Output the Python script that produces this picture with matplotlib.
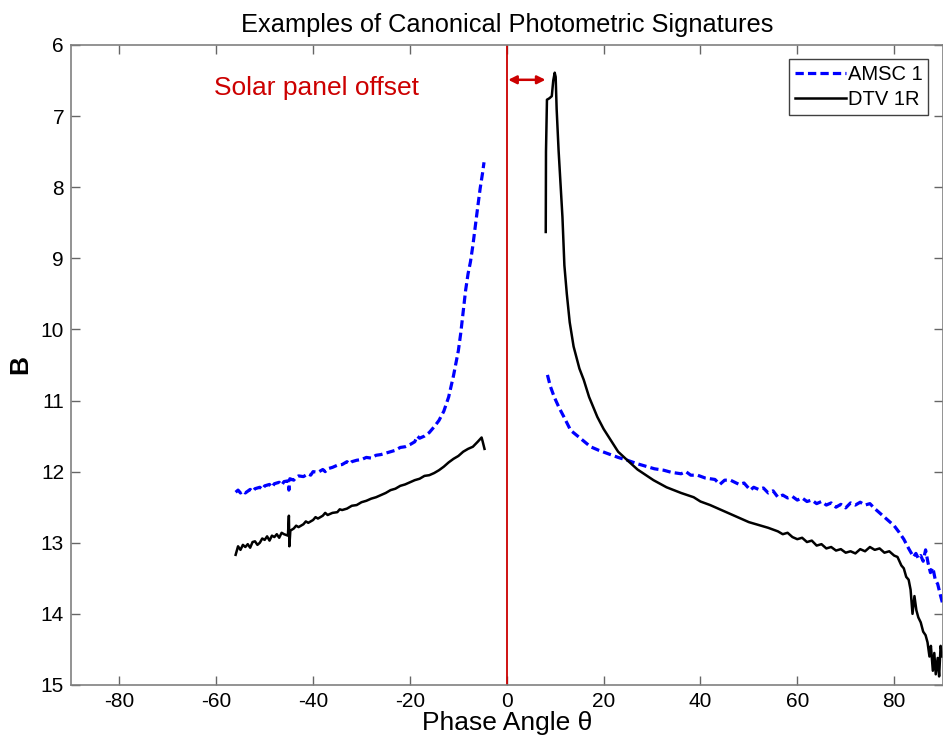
import matplotlib
matplotlib.use("Agg")
import matplotlib.pyplot as plt

plt.rcParams['font.family'] = ['Liberation Sans', 'DejaVu Sans']
plt.rcParams['axes.unicode_minus'] = False

# ---- data ----
amsc_left_x = [-56, -55.5, -55, -54.5, -54, -53, -52.5, -52, -51, -50.5, -50, -49, -48.5, -48, -47, -46.5, -46,
               -45.2, -45, -44.8, -44, -43.5, -43, -42, -41, -40.5, -40, -39, -38, -37.5, -37, -36, -35, -34,
               -33, -32.5, -32, -31, -30, -29, -28, -27, -26, -25, -24, -23, -22, -21, -20, -19, -18.5, -18,
               -17, -16, -15, -14, -13, -12, -11, -10, -9.5, -9, -8.5, -8, -7.5, -7, -6.5, -6, -5.5, -5, -4.7]
amsc_left_y = [12.29, 12.26, 12.30, 12.27, 12.30, 12.25, 12.28, 12.24, 12.22, 12.25, 12.20, 12.18, 12.22, 12.17,
               12.15, 12.19, 12.14, 12.13, 12.26, 12.10, 12.12, 12.08, 12.06, 12.07, 12.03, 12.05, 12.00, 12.01,
               11.97, 12.00, 11.96, 11.94, 11.91, 11.90, 11.86, 11.89, 11.86, 11.84, 11.83, 11.80, 11.81, 11.77,
               11.76, 11.74, 11.72, 11.70, 11.66, 11.65, 11.62, 11.58, 11.50, 11.53, 11.50, 11.45, 11.37, 11.28,
               11.15, 10.95, 10.65, 10.30, 10.05, 9.75, 9.45, 9.22, 9.05, 8.82, 8.55, 8.28, 8.02, 7.80, 7.65]

amsc_right_x = [8.4, 9, 9.8, 10.8, 11.8, 13.2, 15, 17.3, 19, 21, 23, 24.9, 27, 29, 30.5, 32.4, 34, 36, 37, 38,
                39.4, 41, 43, 44, 45, 46.2, 48, 49, 50.3, 51, 52, 53, 54, 55, 56, 57, 58, 59, 60, 61, 62, 63,
                64, 65, 66, 67, 68, 69, 70, 71, 72, 73, 74, 75, 76, 77, 78, 79, 80, 81, 82, 83, 84, 84.5, 85,
                85.5, 86, 86.5, 87, 87.5, 88, 88.5, 89, 89.5, 90]
amsc_right_y = [10.64, 10.80, 10.95, 11.10, 11.23, 11.42, 11.52, 11.65, 11.70, 11.75, 11.80, 11.84, 11.89, 11.93,
                11.96, 11.98, 12.01, 12.03, 12.00, 12.05, 12.05, 12.09, 12.11, 12.18, 12.12, 12.12, 12.18, 12.16,
                12.26, 12.22, 12.25, 12.23, 12.30, 12.27, 12.36, 12.33, 12.37, 12.35, 12.40, 12.37, 12.42, 12.40,
                12.45, 12.42, 12.47, 12.44, 12.50, 12.46, 12.51, 12.44, 12.47, 12.43, 12.47, 12.45, 12.52, 12.58,
                12.64, 12.70, 12.76, 12.85, 12.95, 13.08, 13.20, 13.15, 13.22, 13.18, 13.26, 13.10, 13.28, 13.42,
                13.35, 13.52, 13.58, 13.72, 13.85]

dtv_left_x = [-56, -55.5, -55, -54.5, -54, -53.5, -53, -52.5, -52, -51.5, -51, -50.5, -50, -49.5, -49, -48.5,
              -48, -47.5, -47, -46.5, -46, -45.2, -45, -44.9, -44.7, -44, -43.5, -43, -42, -41.5, -41, -40,
              -39.5, -39, -38, -37.5, -37, -36, -35, -34.5, -34, -33, -32, -31, -30, -29, -28, -27, -26, -25,
              -24, -23, -22, -21, -20, -19, -18, -17, -16, -15, -14, -13, -12, -11, -10, -9, -8, -7, -6,
              -5.2, -5, -4.6]
dtv_left_y = [13.17, 13.05, 13.10, 13.03, 13.06, 13.02, 13.07, 12.99, 12.98, 13.03, 13.00, 12.94, 12.96, 12.91,
              12.97, 12.90, 12.92, 12.88, 12.93, 12.86, 12.88, 12.90, 12.62, 13.05, 12.83, 12.80, 12.76, 12.78,
              12.74, 12.70, 12.72, 12.68, 12.64, 12.66, 12.62, 12.58, 12.61, 12.58, 12.57, 12.53, 12.54, 12.52,
              12.48, 12.47, 12.43, 12.41, 12.38, 12.36, 12.33, 12.30, 12.26, 12.24, 12.20, 12.18, 12.15, 12.12,
              12.10, 12.06, 12.05, 12.02, 11.98, 11.93, 11.87, 11.82, 11.78, 11.72, 11.68, 11.65, 11.58, 11.52,
              11.57, 11.68]

dtv_right_x = [8.05, 8.1, 8.3, 8.8, 9.3, 9.6, 9.9, 10.1, 10.3, 10.7, 11.1, 11.5, 11.9, 12.4, 13, 13.8, 15, 15.9,
               17, 18.7, 20, 21.5, 23, 24.9, 27, 30.3, 33, 36, 38.6, 40, 42, 44, 46, 48, 50, 52, 54, 56, 57,
               58, 59, 60, 61, 62, 63, 64, 65, 66, 67, 68, 69, 70, 71, 72, 73, 74, 75, 76, 77, 78, 79, 80, 80.7,
               81.5, 82, 82.5, 83, 83.4, 83.8, 84.2, 84.6, 85, 85.5, 86, 86.5, 86.9, 87.3, 87.6, 88, 88.3, 88.6,
               89, 89.3, 89.6, 90]
dtv_right_y = [8.63, 7.50, 6.77, 6.75, 6.72, 6.50, 6.39, 6.45, 6.90, 7.48, 7.95, 8.42, 9.10, 9.50, 9.90, 10.24,
               10.55, 10.71, 10.95, 11.23, 11.40, 11.56, 11.72, 11.84, 11.97, 12.12, 12.22, 12.30, 12.36, 12.42,
               12.47, 12.53, 12.59, 12.65, 12.71, 12.75, 12.79, 12.84, 12.88, 12.86, 12.92, 12.95, 12.93, 12.99,
               12.97, 13.04, 13.02, 13.08, 13.06, 13.11, 13.09, 13.14, 13.12, 13.15, 13.09, 13.12, 13.06, 13.10,
               13.08, 13.14, 13.12, 13.18, 13.20, 13.32, 13.36, 13.48, 13.52, 13.66, 14.00, 13.75, 13.95, 14.05,
               14.12, 14.25, 14.30, 14.40, 14.60, 14.45, 14.80, 14.55, 14.85, 14.62, 14.88, 14.45, 14.60]

x_ticks = [-80, -60, -40, -20, 0, 20, 40, 60, 80]
y_ticks = [6, 7, 8, 9, 10, 11, 12, 13, 14, 15]

# ---- figure ----
fig = plt.figure(figsize=(9.43, 7.37), dpi=100)
ax = fig.add_axes([0.0753, 0.0706, 0.9242, 0.8684])

blue = '#0000FF'
red = '#CC0000'
dash = (0, (2.6, 1.3))

ax.plot(amsc_left_x, amsc_left_y, color=blue, lw=2.3, ls=dash, label='AMSC 1')
ax.plot(dtv_left_x, dtv_left_y, color='black', lw=1.8, label='DTV 1R')
ax.plot(amsc_right_x, amsc_right_y, color=blue, lw=2.3, ls=dash)
ax.plot(dtv_right_x, dtv_right_y, color='black', lw=1.8)

ax.axvline(0, color=red, lw=1.3)
ax.annotate('', xy=(8.0, 6.49), xytext=(0.3, 6.49),
            arrowprops=dict(arrowstyle='<|-|>', color=red, lw=1.8, mutation_scale=12, shrinkA=0, shrinkB=0))
ax.text(-39.4, 6.6, 'Solar panel offset', color=red, fontsize=19, ha='center', va='center')

ax.set_xlim(-90, 90)
ax.set_ylim(15, 6)
ax.set_xticks(x_ticks)
ax.set_yticks(y_ticks)
ax.tick_params(direction='in', length=6.5, width=1, colors='#666666', labelcolor='black',
               labelsize=15, top=True, right=True, pad=5)
for s in ax.spines.values():
    s.set_color('#808080')
    s.set_linewidth(1.2)

ax.set_title('Examples of Canonical Photometric Signatures', fontsize=18.3, pad=9)
ax.set_xlabel('Phase Angle θ', fontsize=19, labelpad=0)
ax.set_ylabel('B', fontsize=19, fontweight='bold', labelpad=6)

leg = ax.legend(loc='upper right', fontsize=14.5, fancybox=False, framealpha=1, edgecolor='#404040',
                handlelength=2.5, handletextpad=0.1, borderpad=0.3, labelspacing=0.3,
                borderaxespad=0.7)
leg.get_frame().set_linewidth(1.0)

fig.savefig('out.png', dpi=100)
